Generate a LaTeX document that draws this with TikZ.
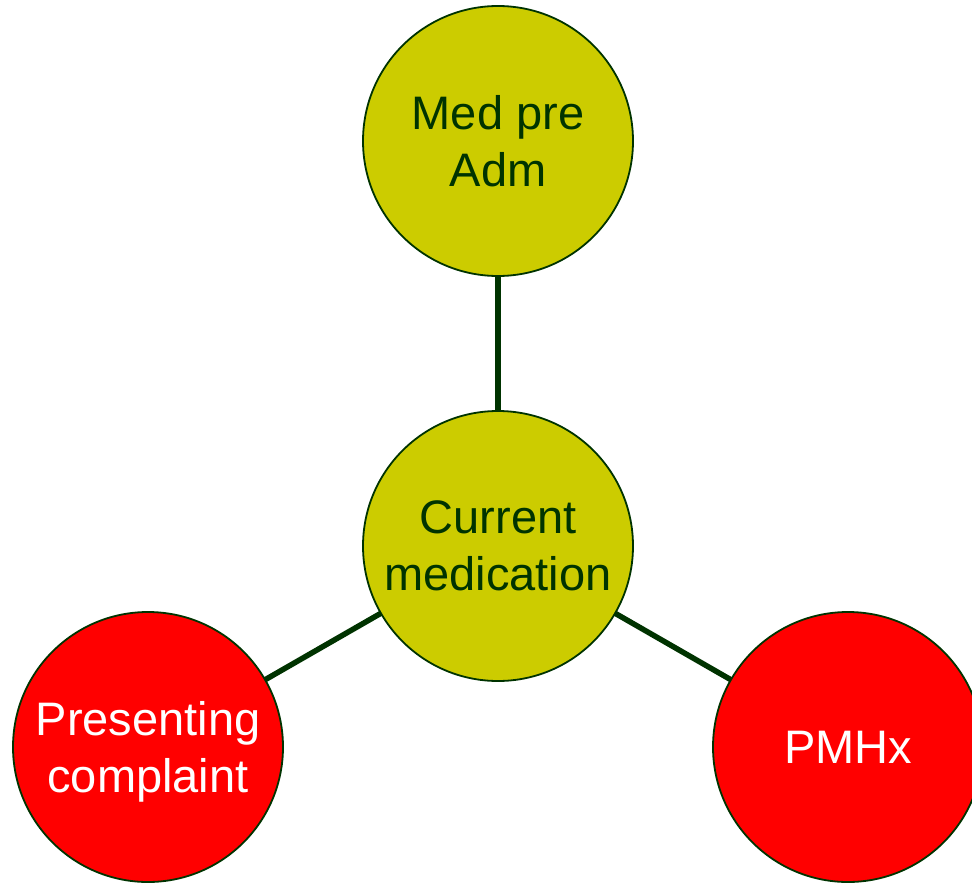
\documentclass[tikz,border=0pt]{standalone}
\usepackage{fontspec}
\setmainfont{Liberation Sans}
\definecolor{olivefill}{HTML}{CCCC00}
\definecolor{darkline}{HTML}{003300}
\definecolor{redfill}{HTML}{FF0000}
\begin{document}
\begin{tikzpicture}[x=1pt,y=-1pt,
  bubble/.style={circle, draw=darkline, line width=1.8pt, minimum size=270pt,
    inner sep=0pt, align=center,
    font=\fontsize{47pt}{56.5pt}\selectfont},
  hub/.style={bubble, fill=olivefill, text=darkline},
  leaf/.style={bubble, fill=redfill, text=white},
  link/.style={draw=darkline, line width=5.5pt}]
\useasboundingbox (0,0) rectangle (972,883);
\begin{scope}
\clip (0,0) rectangle (972,883);
\coordinate (cTop) at (498,141);
\coordinate (cMid) at (498,546);
\coordinate (cLeft) at (148,747);
\coordinate (cRight) at (848,747);
% connectors run between the circle centres, under the fills
\draw[link] (cMid) -- (cTop);
\draw[link] (cMid) -- (cLeft);
\draw[link] (cMid) -- (cRight);
\node[hub] (top) at (cTop) {Med pre\\Adm};
\node[hub] (mid) at (cMid) {Current\\medication};
\node[leaf] (left) at (cLeft) {Presenting\\\smash{complaint}};
\node[leaf] (right) at (cRight) {PMHx};
\end{scope}
\end{tikzpicture}
\end{document}
